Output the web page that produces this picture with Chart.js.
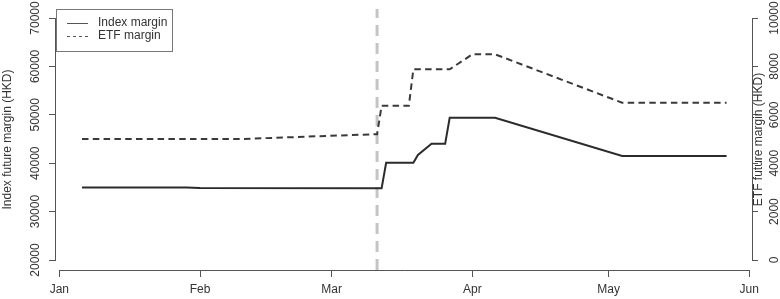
<!DOCTYPE html>
<html>
<head>
<meta charset="utf-8">
<script src="https://cdn.jsdelivr.net/npm/chart.js@4.4.0/dist/chart.umd.min.js"></script>
<style>
  html, body { margin: 0; padding: 0; background: #fff; }
</style>
</head>
<body>
<canvas id="marginChart" width="780" height="299"></canvas>
<script>
// day of year 2020 (Jan 1 = 0)
const indexDays = [5, 28, 31, 71, 72, 78, 79, 82, 85, 86, 96, 124, 147];
const indexMargin = [35000, 35000, 34900, 34800, 40100, 40100, 41700, 44000, 44000, 49400, 49400, 41500, 41500];

const etfDays = [5, 40, 70, 71, 77, 78, 86, 91, 96, 124, 147];
const etfMargin = [5000, 5000, 5200, 6370, 6370, 7880, 7880, 8500, 8500, 6500, 6500];

const monthDays = [0, 31, 60, 91, 121, 152];
const monthLabels = ["Jan", "Feb", "Mar", "Apr", "May", "Jun"];
const indexTicks = [20000, 30000, 40000, 50000, 60000, 70000];
const etfTicks = [0, 2000, 4000, 6000, 8000, 10000];
const eventDay = 70;

const FONT = "'Liberation Sans', Arial, Helvetica, sans-serif";
const axisColor = "#555";
const textColor = "#333";

const toPoints = (xs, ys) => xs.map((x, i) => ({ x: x, y: ys[i] }));

// vertical event line, R-style axis lines, axis titles and legend box
const extras = {
    id: "extras",
    beforeDatasetsDraw(chart) {
        const { ctx, chartArea, scales } = chart;
        const x = scales.x.getPixelForValue(eventDay);
        ctx.save();
        ctx.strokeStyle = "#c4c4c4";
        ctx.lineWidth = 3;
        ctx.setLineDash([11, 7]);
        ctx.beginPath();
        ctx.moveTo(x, chartArea.bottom);
        ctx.lineTo(x, chartArea.top);
        ctx.stroke();
        ctx.restore();
    },
    afterDraw(chart) {
        const { ctx, chartArea, scales } = chart;
        ctx.save();
        ctx.strokeStyle = axisColor;
        ctx.lineWidth = 1;
        ctx.beginPath();
        // bottom axis
        ctx.moveTo(scales.x.getPixelForValue(monthDays[0]), chartArea.bottom + 0.5);
        ctx.lineTo(scales.x.getPixelForValue(monthDays[monthDays.length - 1]), chartArea.bottom + 0.5);
        // left axis
        ctx.moveTo(chartArea.left - 0.5, scales.y.getPixelForValue(indexTicks[0]));
        ctx.lineTo(chartArea.left - 0.5, scales.y.getPixelForValue(indexTicks[indexTicks.length - 1]));
        // right axis
        ctx.moveTo(chartArea.right + 0.5, scales.y2.getPixelForValue(etfTicks[0]));
        ctx.lineTo(chartArea.right + 0.5, scales.y2.getPixelForValue(etfTicks[etfTicks.length - 1]));
        ctx.stroke();

        // axis titles
        const midY = (chartArea.top + chartArea.bottom) / 2;
        ctx.fillStyle = textColor;
        ctx.font = "12px " + FONT;
        ctx.textAlign = "center";
        ctx.textBaseline = "middle";
        ctx.save();
        ctx.translate(8, midY);
        ctx.rotate(-Math.PI / 2);
        ctx.fillText("Index future margin (HKD)", 0, 0);
        ctx.restore();
        ctx.save();
        ctx.translate(chartArea.right + 7, midY);
        ctx.rotate(-Math.PI / 2);
        ctx.fillText("ETF future margin (HKD)", 0, 0);
        ctx.restore();

        // legend
        const bx = chartArea.left, by = chartArea.top;
        ctx.fillStyle = "#fff";
        ctx.fillRect(bx, by, 116, 42);
        ctx.strokeStyle = "#777";
        ctx.strokeRect(bx + 0.5, by + 0.5, 116, 42);
        chart.data.datasets.forEach((ds, i) => {
            const ly = by + 14 + i * 13;
            ctx.strokeStyle = "#555";
            ctx.lineWidth = 1;
            ctx.setLineDash(ds.borderDash && ds.borderDash.length ? [3, 3] : []);
            ctx.beginPath();
            ctx.moveTo(bx + 11, ly + 0.5);
            ctx.lineTo(bx + 32, ly + 0.5);
            ctx.stroke();
            ctx.setLineDash([]);
            ctx.fillStyle = textColor;
            ctx.textAlign = "left";
            ctx.fillText(ds.label, bx + 42, ly);
        });
        ctx.restore();
    }
};

const tickFont = { family: FONT, size: 12 };

new Chart(document.getElementById("marginChart"), {
    type: "line",
    data: {
        datasets: [
            {
                label: "Index margin",
                data: toPoints(indexDays, indexMargin),
                yAxisID: "y",
                borderColor: "#2b2b2b",
                borderWidth: 2,
                pointRadius: 0,
                tension: 0,
                fill: false
            },
            {
                label: "ETF margin",
                data: toPoints(etfDays, etfMargin),
                yAxisID: "y2",
                borderColor: "#3a3a3a",
                borderWidth: 2,
                borderDash: [6.5, 4.3],
                pointRadius: 0,
                tension: 0,
                fill: false
            }
        ]
    },
    options: {
        responsive: false,
        animation: false,
        layout: { padding: { top: 9, left: 0, right: 0, bottom: 0 } },
        plugins: {
            legend: { display: false },
            tooltip: { enabled: false }
        },
        scales: {
            x: {
                type: "linear",
                min: -0.73,
                max: 152.6,
                afterBuildTicks: s => { s.ticks = monthDays.map(v => ({ value: v })); },
                afterFit: s => { s.height = 29; },
                ticks: {
                    autoSkip: false,
                    maxRotation: 0,
                    padding: 5,
                    color: textColor,
                    font: tickFont,
                    callback: v => monthLabels[monthDays.indexOf(v)]
                },
                grid: { drawOnChartArea: false, tickLength: 7, color: axisColor },
                border: { display: false }
            },
            y: {
                position: "left",
                min: 17934,
                max: 71860,
                afterBuildTicks: s => { s.ticks = indexTicks.map(v => ({ value: v })); },
                afterFit: s => { s.width = 56; },
                ticks: {
                    minRotation: 90,
                    maxRotation: 90,
                    crossAlign: "center",
                    padding: -3,
                    color: textColor,
                    font: tickFont,
                    callback: v => String(v)
                },
                grid: { drawOnChartArea: false, tickLength: 7, color: axisColor },
                border: { display: false }
            },
            y2: {
                position: "right",
                min: -413,
                max: 10372,
                afterBuildTicks: s => { s.ticks = etfTicks.map(v => ({ value: v })); },
                afterFit: s => { s.width = 28; },
                ticks: {
                    minRotation: 90,
                    maxRotation: 90,
                    crossAlign: "center",
                    padding: 0,
                    color: textColor,
                    font: tickFont,
                    callback: v => String(v)
                },
                grid: { drawOnChartArea: false, tickLength: 6, color: axisColor },
                border: { display: false }
            }
        }
    },
    plugins: [extras]
});
</script>
</body>
</html>
